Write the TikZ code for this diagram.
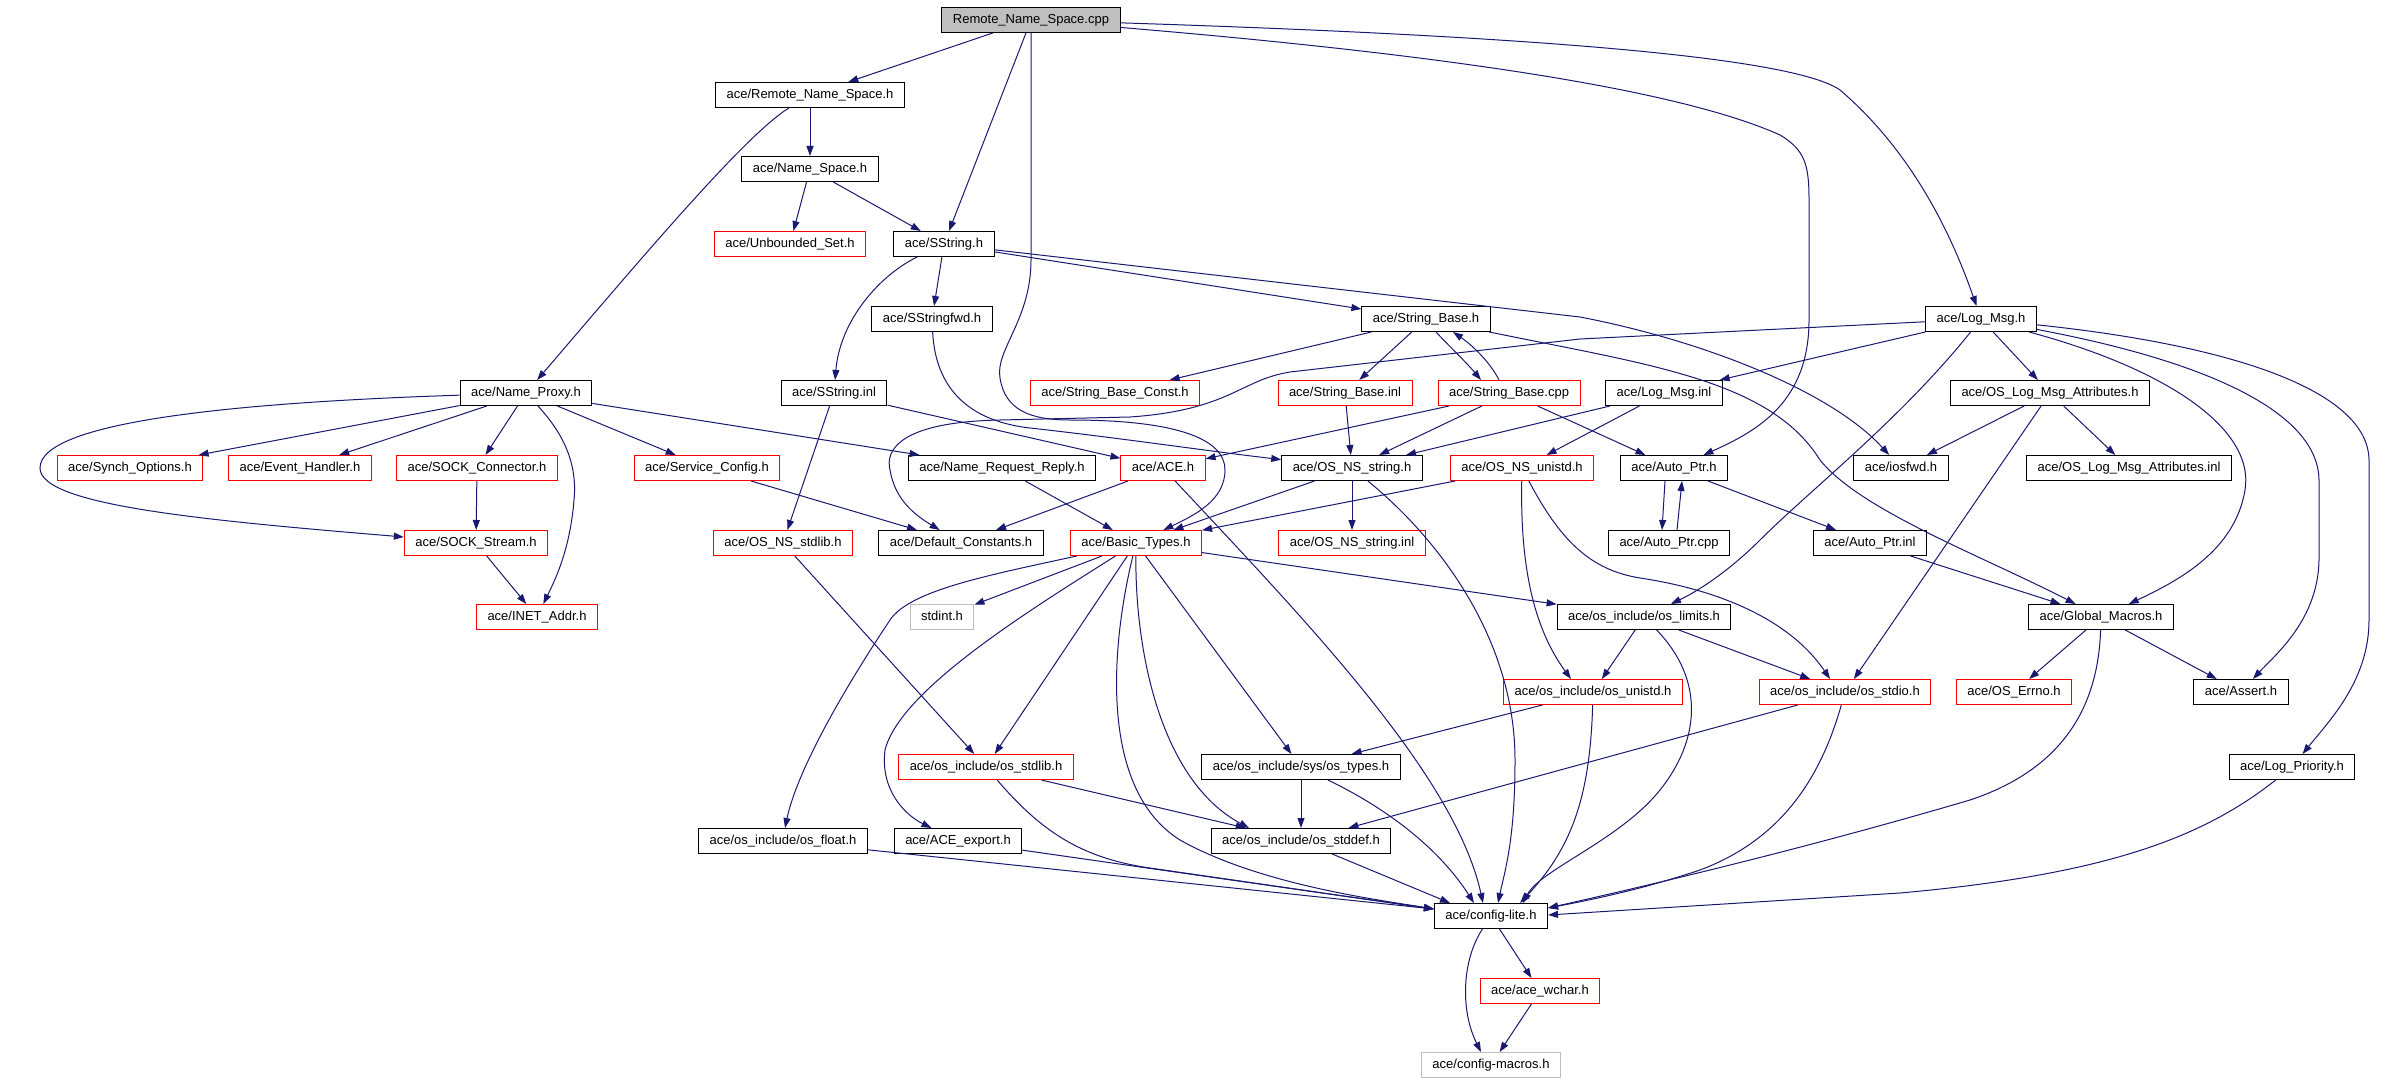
\documentclass[tikz,border=0pt]{standalone}
\usepackage{fontspec}
\setmainfont{Liberation Sans}
\usetikzlibrary{arrows.meta}
\definecolor{depblue}{RGB}{25,25,112}
\definecolor{boxgrey}{RGB}{191,191,191}
\begin{document}
\begin{tikzpicture}[x=1pt,y=-1pt,
	every node/.style={draw,rectangle,line width=1pt,minimum height=25pt,
	inner xsep=11pt,inner ysep=0pt,text height=9.5pt,text depth=2.5pt,
	font=\fontsize{13}{15}\selectfont},
	redbox/.style={draw=red},
	greybox/.style={draw=boxgrey},
	dep/.style={draw=depblue,line width=1pt,-{Triangle[length=10pt,width=7pt]}}]
\useasboundingbox (0,0) rectangle (2389,1083);
\node[fill=boxgrey] (cpp) at (1031,20) {Remote\_Name\_Space.cpp};
\node (rnsh) at (810,95) {ace/Remote\_Name\_Space.h};
\node (nsh) at (810,169) {ace/Name\_Space.h};
\node[redbox] (unb) at (790,244) {ace/Unbounded\_Set.h};
\node (sstr) at (944,244) {ace/SString.h};
\node (sfwd) at (932,319) {ace/SStringfwd.h};
\node (strb) at (1426,319) {ace/String\_Base.h};
\node (logm) at (1981,319) {ace/Log\_Msg.h};
\node (nprx) at (526,393) {ace/Name\_Proxy.h};
\node (sinl) at (834,393) {ace/SString.inl};
\node[redbox] (sbc) at (1115,393) {ace/String\_Base\_Const.h};
\node[redbox] (sbinl) at (1345,393) {ace/String\_Base.inl};
\node[redbox] (sbcpp) at (1509,393) {ace/String\_Base.cpp};
\node (lminl) at (1664,393) {ace/Log\_Msg.inl};
\node (olma) at (2050,393) {ace/OS\_Log\_Msg\_Attributes.h};
\node[redbox] (syn) at (130,468) {ace/Synch\_Options.h};
\node[redbox] (evh) at (300,468) {ace/Event\_Handler.h};
\node[redbox] (sockc) at (477,468) {ace/SOCK\_Connector.h};
\node[redbox] (svc) at (707,468) {ace/Service\_Config.h};
\node (nrr) at (1002,468) {ace/Name\_Request\_Reply.h};
\node[redbox] (ace) at (1163,468) {ace/ACE.h};
\node (nsstr) at (1352,468) {ace/OS\_NS\_string.h};
\node[redbox] (nsuni) at (1522,468) {ace/OS\_NS\_unistd.h};
\node (aptr) at (1674,468) {ace/Auto\_Ptr.h};
\node (iosf) at (1901,468) {ace/iosfwd.h};
\node (olmai) at (2129,468) {ace/OS\_Log\_Msg\_Attributes.inl};
\node[redbox] (socks) at (476,543) {ace/SOCK\_Stream.h};
\node[redbox] (nsstd) at (783,543) {ace/OS\_NS\_stdlib.h};
\node (defc) at (961,543) {ace/Default\_Constants.h};
\node[redbox] (btyp) at (1136,543) {ace/Basic\_Types.h};
\node[redbox] (nsstri) at (1352,543) {ace/OS\_NS\_string.inl};
\node (aptrc) at (1669,543) {ace/Auto\_Ptr.cpp};
\node (aptri) at (1870,543) {ace/Auto\_Ptr.inl};
\node[redbox] (inet) at (537,617) {ace/INET\_Addr.h};
\node[greybox] (stdi) at (942,617) {stdint.h};
\node (olim) at (1644,617) {ace/os\_include/os\_limits.h};
\node (glob) at (2101,617) {ace/Global\_Macros.h};
\node[redbox] (ouni) at (1593,692) {ace/os\_include/os\_unistd.h};
\node[redbox] (ostdio) at (1845,692) {ace/os\_include/os\_stdio.h};
\node[redbox] (errno) at (2014,692) {ace/OS\_Errno.h};
\node (asrt) at (2241,692) {ace/Assert.h};
\node[redbox] (ostdl) at (986,767) {ace/os\_include/os\_stdlib.h};
\node (otyp) at (1301,767) {ace/os\_include/sys/os\_types.h};
\node (lpri) at (2292,767) {ace/Log\_Priority.h};
\node (oflt) at (783,841) {ace/os\_include/os\_float.h};
\node (aexp) at (958,841) {ace/ACE\_export.h};
\node (ostdd) at (1301,841) {ace/os\_include/os\_stddef.h};
\node (cfgl) at (1491,916) {ace/config-lite.h};
\node[redbox] (wchr) at (1540,991) {ace/ace\_wchar.h};
\node[greybox] (cfgm) at (1491,1065) {ace/config-macros.h};
\draw[dep] (cpp) -- (rnsh);
\draw[dep] (cpp) -- (sstr);
\draw[dep] (cpp) -- (1031,260) .. controls (1031,320) and (995,350) .. (1000,378) .. controls (1005,410) and (1030,420) .. (1070,420) .. controls (1180,420) and (1225,440) .. (1225,470) .. controls (1225,500) and (1195,515) .. (btyp);
\draw[dep] (cpp) .. controls (1450,55) and (1680,90) .. (1780,135) .. controls (1805,150) and (1809,165) .. (1809,200) -- (1809,320) .. controls (1809,400) and (1760,430) .. (aptr);
\draw[dep] (cpp) .. controls (1500,35) and (1790,55) .. (1840,90) .. controls (1910,150) and (1950,230) .. (logm);
\draw[dep] (rnsh) -- (nsh);
\draw[dep] (rnsh) .. controls (745,135) and (640,260) .. (nprx);
\draw[dep] (nsh) -- (unb);
\draw[dep] (nsh) -- (sstr);
\draw[dep] (sstr) -- (sfwd);
\draw[dep] (sstr) .. controls (880,275) and (840,320) .. (sinl);
\draw[dep] (sstr) -- (strb);
\draw[dep] (sstr) -- (1580,317) .. controls (1700,340) and (1830,390) .. (iosf);
\draw[dep] (sfwd) .. controls (935,380) and (960,420) .. (1030,428) .. controls (1120,438) and (1200,450) .. (nsstr);
\draw[dep] (strb) -- (sbc);
\draw[dep] (strb) -- (sbinl);
\draw[dep] ([xshift=10pt]strb.south) .. controls (1448,345) and (1466,362) .. ([xshift=-28pt]sbcpp.north);
\draw[dep] ([xshift=-10pt]sbcpp.north) .. controls (1490,362) and (1472,345) .. ([xshift=27pt]strb.south);
\draw[dep] (strb) .. controls (1650,365) and (1770,380) .. (1820,460) .. controls (1860,510) and (1980,555) .. (glob);
\draw[dep] (logm) -- (1580,339) -- (1290,372) .. controls (1240,380) and (1230,410) .. (1130,417) -- (1000,420) .. controls (900,422) and (885,450) .. (890,470) .. controls (895,500) and (915,515) .. (defc);
\draw[dep] (logm) -- (lminl);
\draw[dep] (logm) -- (olma);
\draw[dep] (logm) .. controls (1900,420) and (1810,490) .. (1760,540) .. controls (1730,570) and (1700,590) .. (olim);
\draw[dep] (logm) .. controls (2170,370) and (2255,430) .. (2245,490) .. controls (2235,550) and (2180,580) .. (glob);
\draw[dep] (logm) .. controls (2200,360) and (2318,410) .. (2319,480) -- (2319,560) .. controls (2318,620) and (2275,655) .. (asrt);
\draw[dep] (logm) .. controls (2230,345) and (2368,390) .. (2369,460) -- (2369,620) .. controls (2369,680) and (2330,720) .. (lpri);
\draw[dep] (nprx) -- (syn);
\draw[dep] (nprx) -- (evh);
\draw[dep] (nprx) -- (sockc);
\draw[dep] (nprx) -- (svc);
\draw[dep] (nprx) -- (nrr);
\draw[dep] (nprx) .. controls (250,402) and (40,420) .. (40,468) .. controls (40,505) and (200,520) .. (socks);
\draw[dep] (nprx) .. controls (560,430) and (578,460) .. (574,500) .. controls (570,550) and (555,580) .. (inet);
\draw[dep] (sockc) -- (socks);
\draw[dep] (socks) -- (inet);
\draw[dep] (svc) -- (defc);
\draw[dep] (sinl) -- (nsstd);
\draw[dep] (sinl) -- (ace);
\draw[dep] (sbinl) -- (nsstr);
\draw[dep] (sbcpp) -- (ace);
\draw[dep] (sbcpp) -- (nsstr);
\draw[dep] (sbcpp) -- (aptr);
\draw[dep] (lminl) -- (nsstr);
\draw[dep] (lminl) -- (nsuni);
\draw[dep] (olma) -- (iosf);
\draw[dep] (olma) -- (olmai);
\draw[dep] (olma) -- (ostdio);
\draw[dep] (nrr) -- (btyp);
\draw[dep] (ace) -- (defc);
\draw[dep] (ace) .. controls (1305,620) and (1455,775) .. ([xshift=-8pt]cfgl.north);
\draw[dep] (nsstr) -- (btyp);
\draw[dep] (nsstr) -- (nsstri);
\draw[dep] (nsstr) .. controls (1440,540) and (1515,640) .. (1515,760) .. controls (1515,840) and (1505,870) .. ([xshift=7pt]cfgl.north);
\draw[dep] (nsuni) -- (btyp);
\draw[dep] (nsuni) .. controls (1520,570) and (1535,630) .. ([xshift=-22pt]ouni.north);
\draw[dep] (nsuni) .. controls (1560,540) and (1590,570) .. (1640,578) .. controls (1720,590) and (1790,620) .. ([xshift=-15pt]ostdio.north);
\draw[dep] ([xshift=-9pt]aptr.south) -- ([xshift=-7pt]aptrc.north);
\draw[dep] ([xshift=8pt]aptrc.north) -- ([xshift=8pt]aptr.south);
\draw[dep] (aptr) -- (aptri);
\draw[dep] (aptri) -- (glob);
\draw[dep] (btyp) -- (stdi);
\draw[dep] (btyp) -- (olim);
\draw[dep] (btyp) .. controls (990,575) and (910,590) .. (890,620) .. controls (830,710) and (795,780) .. ([xshift=2pt]oflt.north);
\draw[dep] (btyp) .. controls (1030,610) and (900,690) .. (885,750) .. controls (880,790) and (905,815) .. (aexp);
\draw[dep] (btyp) -- (ostdl);
\draw[dep] (btyp) -- (otyp);
\draw[dep] (btyp) .. controls (1135,650) and (1160,780) .. ([xshift=-52pt]ostdd.north);
\draw[dep] (btyp) .. controls (1110,650) and (1100,790) .. (1180,840) .. controls (1260,885) and (1380,900) .. ([yshift=7pt]cfgl.west);
\draw[dep] (nsstd) -- (ostdl);
\draw[dep] (ostdl) -- (ostdd);
\draw[dep] (ostdl) .. controls (1040,830) and (1080,858) .. (1150,868) -- ([yshift=7pt]cfgl.west);
\draw[dep] (oflt) -- ([yshift=7pt]cfgl.west);
\draw[dep] (aexp) -- ([yshift=7pt]cfgl.west);
\draw[dep] (otyp) -- (ostdd);
\draw[dep] (otyp) .. controls (1390,810) and (1440,850) .. ([xshift=-17pt]cfgl.north);
\draw[dep] (ostdd) -- ([xshift=-41pt]cfgl.north);
\draw[dep] (olim) -- (ouni);
\draw[dep] (olim) -- (ostdio);
\draw[dep] (olim) .. controls (1705,680) and (1700,740) .. (1660,790) .. controls (1620,840) and (1540,870) .. ([xshift=32pt]cfgl.north);
\draw[dep] (ouni) -- (otyp);
\draw[dep] (ouni) .. controls (1590,800) and (1570,850) .. ([xshift=29pt]cfgl.north);
\draw[dep] (ostdio) -- (ostdd);
\draw[dep] (ostdio) .. controls (1820,780) and (1780,840) .. (1700,870) .. controls (1640,890) and (1590,900) .. ([yshift=8pt]cfgl.east);
\draw[dep] (glob) -- (errno);
\draw[dep] (glob) -- (asrt);
\draw[dep] (glob) .. controls (2098,710) and (2060,770) .. (1970,800) .. controls (1800,850) and (1650,885) .. ([yshift=8pt]cfgl.east);
\draw[dep] (lpri) .. controls (2200,840) and (2100,875) .. (1900,893) -- ([yshift=1pt]cfgl.east);
\draw[dep] (cfgl) -- (wchr);
\draw[dep] (cfgl) .. controls (1462,960) and (1460,1010) .. ([xshift=-10pt]cfgm.north);
\draw[dep] (wchr) -- (cfgm);
\end{tikzpicture}
\end{document}
